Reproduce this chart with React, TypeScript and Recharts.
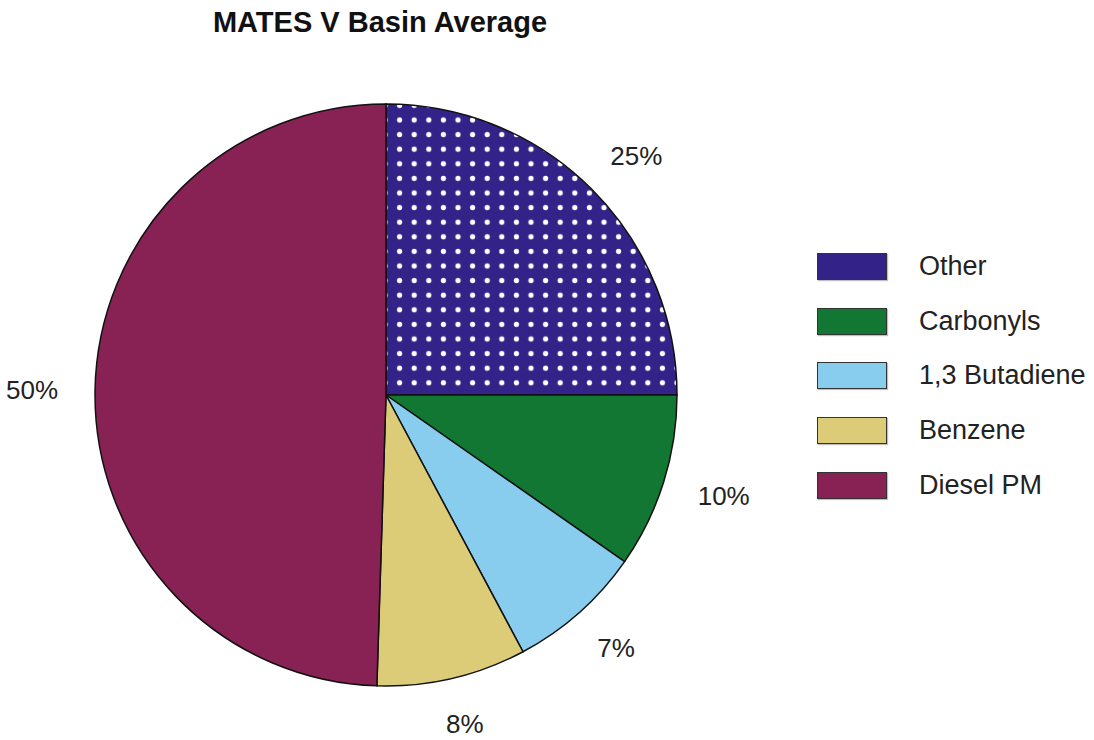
import React from 'react';
import { PieChart, Pie, Cell, Legend } from 'recharts';

const categories = ['Other', 'Carbonyls', '1,3 Butadiene', 'Benzene', 'Diesel PM'];
const shares = [25.0, 9.7, 7.5, 8.3, 49.5];
const shareLabels = ['25%', '10%', '7%', '8%', '50%'];
const colors = ['#332288', '#117733', '#88CCEE', '#DDCC77', '#882255'];

const data = categories.map((name, i) => ({ name, value: shares[i] }));

const RADIAN = Math.PI / 180;
const FONT = '"Liberation Sans", Arial, sans-serif';
const LABEL_SIZE = 26;

// label box sits just outside the pie: its near edge is a fixed distance out
const renderLabel = (props: any) => {
  const { cx, cy, midAngle, index } = props;
  const txt = shareLabels[index];
  const halfW = ((txt.length - 1) * 0.556 + 0.889) * LABEL_SIZE / 2;
  const halfH = LABEL_SIZE * 0.37;
  const c = Math.cos(-midAngle * RADIAN);
  const s = Math.sin(-midAngle * RADIAN);
  const r = 328;
  const x = cx + r * c + c * halfW;
  const y = cy + r * s + s * halfH;
  return (
    <text
      x={x}
      y={y}
      textAnchor="middle"
      dominantBaseline="central"
      fill="#222"
      fontSize={LABEL_SIZE}
      fontFamily={FONT}
    >
      {txt}
    </text>
  );
};

const renderLegend = () => (
  <div style={{ fontFamily: FONT }}>
    {categories.map((name, i) => (
      <div key={name} style={{ display: 'flex', alignItems: 'center', height: 54.7 }}>
        <div
          style={{
            width: 68,
            height: 25,
            background: colors[i],
            border: '1.5px solid #333',
            boxShadow: '1px 1px 1px rgba(0,0,0,0.25)',
          }}
        />
        <span style={{ marginLeft: 32, fontSize: 27, color: '#222' }}>{name}</span>
      </div>
    ))}
  </div>
);

const App: React.FC = () => {
  return (
    <div style={{ position: 'absolute', left: 0, top: 0, width: 1094, height: 740, background: '#fff' }}>
      <PieChart width={1094} height={740} margin={{ top: 0, right: 0, bottom: 0, left: 0 }}>
        <defs>
          <pattern
            id="dots"
            patternUnits="userSpaceOnUse"
            x={385 - 7.3}
            y={120 - 7.3}
            width={14.6}
            height={14.6}
          >
            <rect width={14.6} height={14.6} fill="#332288" />
            <circle cx={7.3} cy={7.3} r={2.6} fill="#fff" />
          </pattern>
        </defs>
        <text
          x={380}
          y={22}
          textAnchor="middle"
          dominantBaseline="central"
          fontSize={29}
          fontWeight="bold"
          fontFamily={FONT}
          fill="#111"
        >
          MATES V Basin Average
        </text>
        <Pie
          data={data}
          dataKey="value"
          nameKey="name"
          cx={386}
          cy={395}
          outerRadius={291}
          startAngle={90}
          endAngle={-270}
          stroke="#111"
          strokeWidth={1.5}
          label={renderLabel}
          labelLine={false}
          isAnimationActive={false}
        >
          {data.map((d, i) => (
            <Cell key={d.name} fill={i === 0 ? 'url(#dots)' : colors[i]} />
          ))}
        </Pie>
        <Legend
          content={renderLegend}
          wrapperStyle={{ position: 'absolute', left: 817, top: 239, width: 277 }}
        />
      </PieChart>
    </div>
  );
};

export default App;
